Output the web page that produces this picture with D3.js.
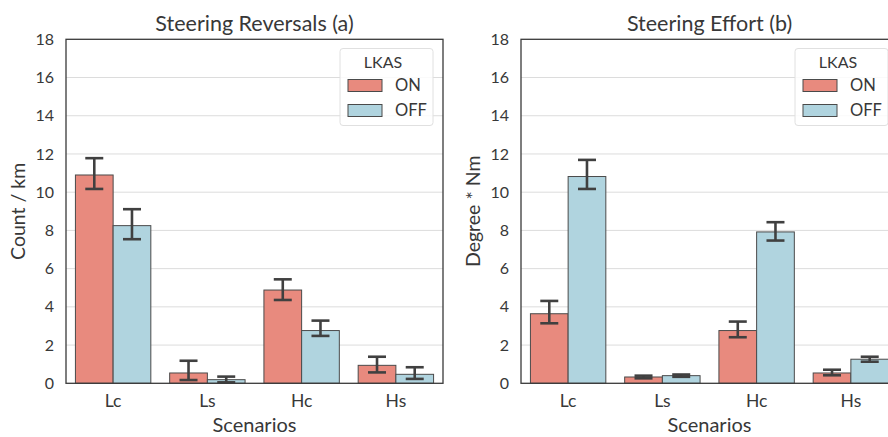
<!DOCTYPE html>
<html>
<head>
<meta charset="utf-8">
<script src="https://cdn.jsdelivr.net/npm/d3@7"></script>
<style>
  body { margin: 0; background: #fff; }
  text { font-family: Lato, "Open Sans", sans-serif; fill: #383838; }
</style>
</head>
<body>
<div id="chart"></div>
<script>
// data
const scenarios = ["Lc", "Ls", "Hc", "Hs"]
const lkas = ["ON", "OFF"]

const reversalsOn = [10.9, 0.54, 4.88, 0.94]
const reversalsOnLo = [10.17, 0.17, 4.36, 0.57]
const reversalsOnHi = [11.78, 1.18, 5.44, 1.39]
const reversalsOff = [8.25, 0.19, 2.76, 0.47]
const reversalsOffLo = [7.54, 0.05, 2.48, 0.23]
const reversalsOffHi = [9.11, 0.35, 3.28, 0.84]

const effortOn = [3.64, 0.33, 2.76, 0.54]
const effortOnLo = [3.14, 0.26, 2.41, 0.42]
const effortOnHi = [4.31, 0.40, 3.23, 0.71]
const effortOff = [10.82, 0.40, 7.92, 1.26]
const effortOffLo = [10.17, 0.34, 7.47, 1.13]
const effortOffHi = [11.69, 0.46, 8.43, 1.39]

const yTicks = [0, 2, 4, 6, 8, 10, 12, 14, 16, 18]

const panels = [
  { title: "Steering Reversals (a)", ylabel: "Count / km", left: 66,
    series: [
      { key: "ON", vals: reversalsOn, lo: reversalsOnLo, hi: reversalsOnHi },
      { key: "OFF", vals: reversalsOff, lo: reversalsOffLo, hi: reversalsOffHi } ] },
  { title: "Steering Effort (b)", ylabel: "Degree * Nm", left: 521,
    series: [
      { key: "ON", vals: effortOn, lo: effortOnLo, hi: effortOnHi },
      { key: "OFF", vals: effortOff, lo: effortOffLo, hi: effortOffHi } ] }
]

const color = d3.scaleOrdinal().domain(lkas).range(["#e88a7e", "#b0d4df"])

const width = 888, height = 437
const plotW = 377, plotTop = 39.3, plotBottom = 383.3

const svg = d3.select("#chart").append("svg")
    .attr("width", width)
    .attr("height", height)

const y = d3.scaleLinear().domain([0, 18]).range([plotBottom, plotTop])

panels.forEach(p => {
  const g = svg.append("g")

  const x = d3.scaleBand().domain(scenarios)
      .range([p.left, p.left + plotW]).paddingInner(0.2).paddingOuter(0.1)
  const xSub = d3.scaleBand().domain(lkas).range([0, x.bandwidth()])
  const xCat = d3.scaleBand().domain(scenarios).range([p.left, p.left + plotW])

  // grid
  g.selectAll(".grid").data(yTicks.slice(1, -1))
    .join("line")
      .attr("x1", p.left).attr("x2", p.left + plotW)
      .attr("y1", d => y(d)).attr("y2", d => y(d))
      .attr("stroke", "#dcdcdc").attr("stroke-width", 1)

  // bars
  p.series.forEach(s => {
    const rows = scenarios.map((c, i) => ({ c, v: s.vals[i], lo: s.lo[i], hi: s.hi[i] }))
    g.selectAll(".bar-" + s.key).data(rows)
      .join("rect")
        .attr("x", d => x(d.c) + xSub(s.key))
        .attr("y", d => y(d.v))
        .attr("width", xSub.bandwidth())
        .attr("height", d => y(0) - y(d.v))
        .attr("fill", color(s.key))
        .attr("stroke", "#4a4a4a")
        .attr("stroke-width", 1)

    // error bars
    const cx = d => x(d.c) + xSub(s.key) + xSub.bandwidth() / 2
    const eb = g.append("g").attr("stroke", "#404040").attr("stroke-width", 2.6)
    eb.selectAll(".v").data(rows).join("line")
      .attr("x1", cx).attr("x2", cx)
      .attr("y1", d => y(d.lo)).attr("y2", d => y(d.hi))
    eb.selectAll(".capHi").data(rows).join("line")
      .attr("x1", d => cx(d) - 9).attr("x2", d => cx(d) + 9)
      .attr("y1", d => y(d.hi)).attr("y2", d => y(d.hi))
    eb.selectAll(".capLo").data(rows).join("line")
      .attr("x1", d => cx(d) - 9).attr("x2", d => cx(d) + 9)
      .attr("y1", d => y(d.lo)).attr("y2", d => y(d.lo))
  })

  // frame
  g.append("rect")
    .attr("x", p.left).attr("y", plotTop)
    .attr("width", plotW).attr("height", plotBottom - plotTop)
    .attr("fill", "none").attr("stroke", "#3a3a3a").attr("stroke-width", 1.3)

  // y ticks
  g.selectAll(".ytick").data(yTicks)
    .join("text")
      .attr("x", p.left - 12)
      .attr("y", d => y(d))
      .attr("dy", "0.35em")
      .attr("text-anchor", "end")
      .attr("font-size", 16)
      .text(d => d)

  // x ticks
  g.selectAll(".xtick").data(scenarios)
    .join("text")
      .attr("x", d => xCat(d) + xCat.bandwidth() / 2)
      .attr("y", 407)
      .attr("text-anchor", "middle")
      .attr("font-size", 17.5)
      .text(d => d)

  // labels
  g.append("text")
    .attr("x", p.left + plotW / 2).attr("y", 432)
    .attr("text-anchor", "middle").attr("font-size", 20)
    .text("Scenarios")

  g.append("text")
    .attr("transform", `translate(${p.left - 41},${(plotTop + plotBottom) / 2}) rotate(-90)`)
    .attr("text-anchor", "middle").attr("font-size", 19.5)
    .text(p.ylabel)

  g.append("text")
    .attr("x", p.left + plotW / 2).attr("y", 31)
    .attr("text-anchor", "middle").attr("font-size", 21.5)
    .text(p.title)

  // legend
  const lg = g.append("g").attr("transform", `translate(${p.left + 274},48.5)`)
  lg.append("rect")
    .attr("width", 93).attr("height", 77).attr("rx", 3)
    .attr("fill", "rgba(255,255,255,0.85)")
    .attr("stroke", "#e0e0e0")
  lg.append("text")
    .attr("x", 43).attr("y", 19)
    .attr("text-anchor", "middle").attr("font-size", 16)
    .text("LKAS")
  lkas.forEach((k, i) => {
    lg.append("rect")
      .attr("x", 8).attr("y", 31 + i * 25)
      .attr("width", 34).attr("height", 12)
      .attr("fill", color(k)).attr("stroke", "#4a4a4a")
    lg.append("text")
      .attr("x", 55).attr("y", 42 + i * 25)
      .attr("font-size", 16.5)
      .text(k)
  })
})
</script>
</body>
</html>
